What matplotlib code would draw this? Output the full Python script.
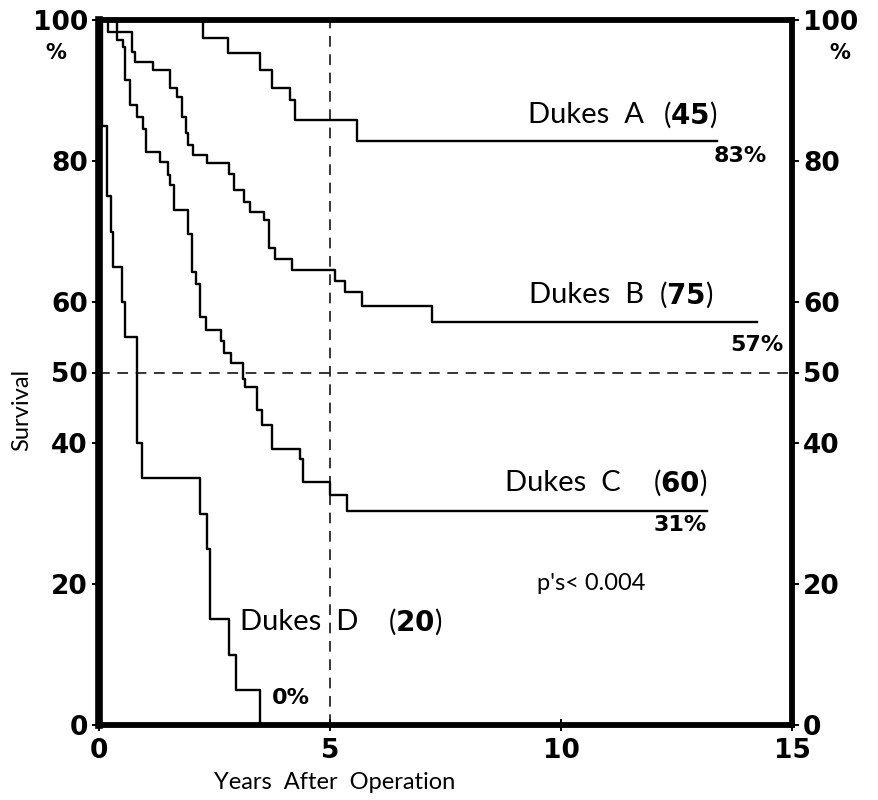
import matplotlib
matplotlib.use("Agg")
import matplotlib.pyplot as plt
from matplotlib.font_manager import FontProperties

# Kaplan-Meier krzywe przezycia
a_lata = [0, 2.25, 2.80, 3.48, 3.74, 4.13, 4.24, 5.58, 13.38]
a_przezycie = [100, 97.4, 95.3, 92.9, 90.3, 88.7, 85.8, 82.8, 82.8]

b_lata = [0, 0.39, 0.71, 0.78, 1.17, 1.54, 1.68, 1.79, 1.88, 1.93, 2.04, 2.34,
          2.82, 2.92, 3.14, 3.27, 3.57, 3.69, 3.81, 4.17, 5.11, 5.32, 5.69, 7.20, 14.24]
b_przezycie = [100, 98.3, 95.5, 94.1, 92.9, 90.4, 89.1, 86.3, 84.0, 82.3, 80.9, 79.7,
               78.2, 75.9, 74.2, 72.8, 71.6, 67.6, 66.1, 64.6, 63.0, 61.4, 59.4, 57.2, 57.2]

c_lata = [0, 0.20, 0.38, 0.53, 0.56, 0.67, 0.82, 0.95, 1.02, 1.33, 1.49, 1.54, 1.63,
          1.92, 2.01, 2.11, 2.19, 2.32, 2.64, 2.71, 2.86, 3.11, 3.16, 3.41, 3.52, 3.74,
          4.35, 4.42, 5.00, 5.36, 13.16]
c_przezycie = [100, 98.3, 97.2, 96.2, 91.5, 87.9, 86.3, 84.6, 81.3, 79.9, 78.0, 76.6, 73.0,
               69.7, 64.3, 62.6, 57.9, 56.0, 54.4, 52.7, 51.3, 49.1, 48.0, 44.7, 42.6, 39.2,
               37.8, 34.5, 32.6, 30.3, 30.3]

d_lata = [0, 0.06, 0.17, 0.27, 0.31, 0.49, 0.56, 0.82, 0.92, 2.19, 2.33, 2.40, 2.81, 2.97, 3.48]
d_przezycie = [100, 85, 75, 70, 65, 60, 55, 40, 35, 30, 25, 15, 10, 5, 0]

x_ticks = [0, 5, 10, 15]
y_ticks = [0, 20, 40, 50, 60, 80, 100]
y_tick_labels = ['0', '20', '40', '50', '60', '80', '100']

fig = plt.figure(figsize=(8.79, 8.0), dpi=100)
ax = fig.add_axes([99 / 879, 75 / 800, 693 / 879, 705 / 800])

for lata, przezycie in [(a_lata, a_przezycie), (b_lata, b_przezycie),
                        (c_lata, c_przezycie), (d_lata, d_przezycie)]:
    ax.plot(lata, przezycie, drawstyle='steps-post', color='black', lw=1.7,
            clip_on=False, zorder=3)

# linie pomocnicze
ax.axhline(50, color='black', lw=1.1, ls=(0, (7, 5)), zorder=2)
ax.axvline(5, color='black', lw=1.1, ls=(0, (7, 5)), zorder=2)

ax.set_xlim(0, 15)
ax.set_ylim(0, 100)

for side, lw in [('left', 5.5), ('right', 4.2), ('top', 4.2), ('bottom', 4.2)]:
    ax.spines[side].set_linewidth(lw)

tick_font = dict(family='DejaVu Sans', weight='bold', size=19)
ax.set_xticks(x_ticks)
ax.set_xticklabels([str(t) for t in x_ticks], fontdict=tick_font)
ax.set_yticks(y_ticks)
ax.set_yticklabels(y_tick_labels, fontdict=tick_font)
ax.tick_params(axis='y', left=True, right=True, labelleft=True, labelright=True,
               direction='out', length=5, width=1.4, pad=3)
ax.tick_params(axis='x', direction='inout', length=9, width=1.4, pad=5)
for lab in ax.get_yticklabels(which='both'):
    lab.set_fontproperties(FontProperties(**tick_font))

# znak % pod etykieta 100
ax.text(-0.062, 0.953, '%', transform=ax.transAxes, ha='center', va='center',
        fontsize=15, fontweight='bold', family='DejaVu Sans')
ax.text(1.069, 0.953, '%', transform=ax.transAxes, ha='center', va='center',
        fontsize=15, fontweight='bold', family='DejaVu Sans')

etykieta = dict(family='Lato', fontsize=21, va='center')
nawias = dict(family='Lato', fontsize=20, va='center', ha='right')
procent = dict(family='DejaVu Sans', fontsize=16, fontweight='bold', va='center', ha='right')

ax.text(9.29, 86.5, 'Dukes  A', ha='left', **etykieta)
ax.text(13.38, 86.5, r'($\mathbf{45}$)', **nawias)
ax.text(14.46, 80.7, '83%', **procent)

ax.text(9.31, 61.0, 'Dukes  B', ha='left', **etykieta)
ax.text(13.29, 61.0, r'($\mathbf{75}$)', **nawias)
ax.text(14.81, 53.9, '57%', **procent)

ax.text(8.79, 34.3, 'Dukes  C', ha='left', **etykieta)
ax.text(13.16, 34.3, r'($\mathbf{60}$)', **nawias)
ax.text(13.16, 28.4, '31%', **procent)

ax.text(3.05, 14.6, 'Dukes  D', ha='left', **etykieta)
ax.text(7.42, 14.6, r'($\mathbf{20}$)', **nawias)
ax.text(3.74, 3.8, '0%', ha='left', va='center', family='DejaVu Sans',
        fontsize=16, fontweight='bold')

ax.text(9.48, 20.1, "p's< 0.004", ha='left', va='center', family='Lato', fontsize=17)

ax.text(-0.111, 0.447, 'Survival', transform=ax.transAxes, rotation=90,
        ha='center', va='center', family='Lato', fontsize=17)
ax.text(0.34, -0.081, 'Years  After  Operation', transform=ax.transAxes,
        ha='center', va='center', family='Lato', fontsize=17)

fig.savefig('out.png', dpi=100)
